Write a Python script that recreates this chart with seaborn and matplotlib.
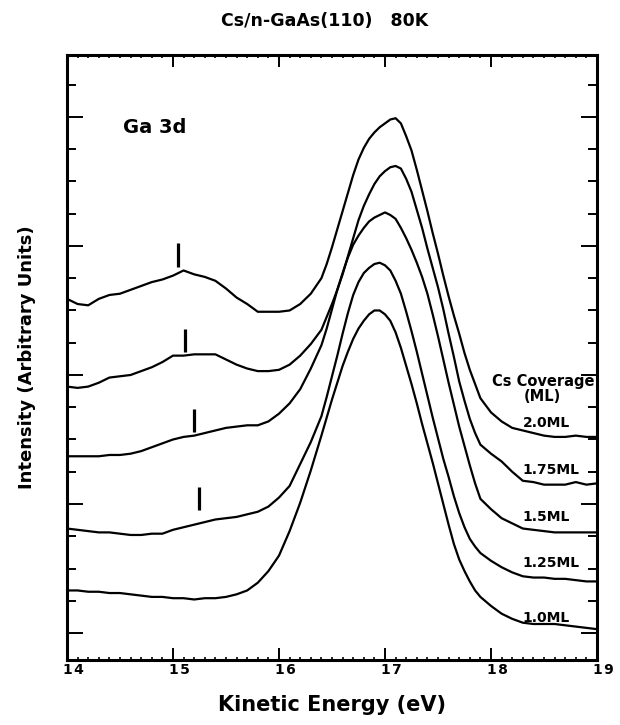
import numpy as np
import pandas as pd
import matplotlib
matplotlib.use("Agg")
import matplotlib.pyplot as plt
import matplotlib.transforms as mtransforms
from matplotlib.ticker import MultipleLocator
import seaborn as sns

# kinetic energy sample points (eV); denser across the main peak
energy = [14.0, 14.1, 14.2, 14.3, 14.4, 14.5, 14.6, 14.7, 14.8, 14.9,
          15.0, 15.1, 15.2, 15.3, 15.4, 15.5, 15.6, 15.7, 15.8, 15.9,
          16.0, 16.1, 16.2, 16.3, 16.4,
          16.45, 16.5, 16.55, 16.6, 16.65, 16.7, 16.75, 16.8, 16.85, 16.9,
          16.95, 17.0, 17.05, 17.1, 17.15, 17.2, 17.25, 17.3, 17.35, 17.4,
          17.45, 17.5, 17.55, 17.6, 17.65, 17.7, 17.75, 17.8, 17.85, 17.9,
          18.0, 18.1, 18.2, 18.3, 18.4, 18.5, 18.6, 18.7, 18.8, 18.9, 19.0]

# Ga 3d spectra (arbitrary units, offset) for each Cs coverage
cov_2_0 = [2.59, 2.55, 2.54, 2.59, 2.62, 2.63, 2.66, 2.69, 2.72, 2.74,
           2.77, 2.81, 2.78, 2.76, 2.73, 2.67, 2.60, 2.55, 2.49, 2.49,
           2.49, 2.50, 2.55, 2.63, 2.75,
           2.86, 2.99, 3.13, 3.27, 3.41, 3.55, 3.67, 3.76, 3.83, 3.88,
           3.92, 3.95, 3.98, 3.99, 3.95, 3.85, 3.74, 3.59, 3.43, 3.27,
           3.10, 2.94, 2.77, 2.61, 2.46, 2.32, 2.17, 2.04, 1.93, 1.82,
           1.71, 1.64, 1.59, 1.57, 1.55, 1.53, 1.52, 1.52, 1.53, 1.52, 1.52]
cov_1_75 = [1.91, 1.90, 1.91, 1.94, 1.98, 1.99, 2.00, 2.03, 2.06, 2.10,
            2.15, 2.15, 2.16, 2.16, 2.16, 2.12, 2.08, 2.05, 2.03, 2.03,
            2.04, 2.08, 2.15, 2.24, 2.35,
            2.45, 2.55, 2.66, 2.78, 2.92, 3.06, 3.20, 3.31, 3.40, 3.48,
            3.54, 3.58, 3.61, 3.62, 3.60, 3.52, 3.42, 3.28, 3.14, 2.98,
            2.83, 2.68, 2.51, 2.32, 2.14, 1.95, 1.80, 1.66, 1.55, 1.46,
            1.39, 1.33, 1.25, 1.18, 1.17, 1.15, 1.15, 1.15, 1.17, 1.15, 1.16]
cov_1_5 = [1.37, 1.37, 1.37, 1.37, 1.38, 1.38, 1.39, 1.41, 1.44, 1.47,
           1.50, 1.52, 1.53, 1.55, 1.57, 1.59, 1.60, 1.61, 1.61, 1.64,
           1.70, 1.78, 1.89, 2.05, 2.23,
           2.36, 2.51, 2.66, 2.79, 2.91, 3.01, 3.08, 3.14, 3.19, 3.22,
           3.24, 3.26, 3.24, 3.21, 3.14, 3.06, 2.97, 2.87, 2.76, 2.63,
           2.47, 2.30, 2.12, 1.94, 1.77, 1.60, 1.45, 1.30, 1.16, 1.04,
           0.96, 0.89, 0.85, 0.81, 0.80, 0.79, 0.78, 0.78, 0.78, 0.78, 0.78]
cov_1_25 = [0.81, 0.80, 0.79, 0.78, 0.78, 0.77, 0.76, 0.76, 0.77, 0.77,
            0.80, 0.82, 0.84, 0.86, 0.88, 0.89, 0.90, 0.92, 0.94, 0.98,
            1.05, 1.14, 1.31, 1.48, 1.68,
            1.83, 1.99, 2.15, 2.32, 2.48, 2.62, 2.72, 2.79, 2.83, 2.86,
            2.87, 2.85, 2.81, 2.73, 2.63, 2.49, 2.34, 2.18, 2.01, 1.84,
            1.67, 1.51, 1.35, 1.21, 1.06, 0.93, 0.82, 0.73, 0.67, 0.62,
            0.56, 0.51, 0.47, 0.44, 0.43, 0.43, 0.42, 0.42, 0.41, 0.40, 0.40]
cov_1_0 = [0.33, 0.33, 0.32, 0.32, 0.31, 0.31, 0.30, 0.29, 0.28, 0.28,
           0.27, 0.27, 0.26, 0.27, 0.27, 0.28, 0.30, 0.33, 0.39, 0.48,
           0.60, 0.79, 1.01, 1.26, 1.53,
           1.67, 1.81, 1.94, 2.07, 2.18, 2.28, 2.36, 2.42, 2.47, 2.50,
           2.50, 2.47, 2.42, 2.33, 2.21, 2.07, 1.93, 1.78, 1.62, 1.47,
           1.32, 1.16, 1.00, 0.84, 0.69, 0.57, 0.48, 0.40, 0.33, 0.28,
           0.21, 0.15, 0.11, 0.08, 0.07, 0.07, 0.07, 0.06, 0.05, 0.04, 0.03]

coverage_labels = ["2.0ML", "1.75ML", "1.5ML", "1.25ML", "1.0ML"]
label_y = [1.63, 1.26, 0.90, 0.54, 0.12]

# surface-shifted component markers
marker_x = [15.05, 15.11, 15.20, 15.25]
marker_lo = [2.84, 2.18, 1.56, 0.95]
marker_hi = [3.02, 2.36, 1.74, 1.13]

xticks = [14, 15, 16, 17, 18, 19]

spectra = [cov_2_0, cov_1_75, cov_1_5, cov_1_25, cov_1_0]
df = pd.concat([pd.DataFrame({"energy": energy, "intensity": s, "coverage": lab})
                for s, lab in zip(spectra, coverage_labels)], ignore_index=True)

sns.set_style("ticks")
plt.rcParams["font.family"] = ["DejaVu Sans"]
plt.rcParams["font.weight"] = "bold"
for key in ["text.color", "axes.labelcolor", "xtick.color", "ytick.color", "axes.edgecolor"]:
    plt.rcParams[key] = "black"

fig = plt.figure(figsize=(6.2, 7.25), dpi=100)
ax = fig.add_axes([67 / 620, 1 - 660 / 725, 530 / 620, 605 / 725])

sns.lineplot(data=df, x="energy", y="intensity", units="coverage", estimator=None,
             color="black", linewidth=1.6, legend=False, ax=ax)
ax.vlines(marker_x, marker_lo, marker_hi, color="black", linewidth=2.3)

ax.set_xlim(14, 19)
ax.set_ylim(-0.209, 4.48)
ax.set_xticks(xticks)
ax.set_xticklabels(["\u200a".join(str(t)) for t in xticks])
ax.xaxis.set_minor_locator(MultipleLocator(0.1))
ax.set_yticks([0, 1, 2, 3, 4])
ax.set_yticklabels([])
ax.yaxis.set_minor_locator(MultipleLocator(0.25))

ax.tick_params(axis="both", which="both", direction="in", top=True, right=True,
               color="black", width=1.4)
ax.tick_params(axis="x", which="major", length=8.5, pad=2, labelsize=10)
ax.tick_params(axis="x", which="minor", length=2.5, width=1.2)
ax.tick_params(axis="y", which="major", length=11.5)
ax.tick_params(axis="y", which="minor", length=6.5)
for lab in ax.get_xticklabels():
    lab.set_horizontalalignment("left")
    lab.set_fontweight("bold")
    lab.set_transform(lab.get_transform() +
                      mtransforms.ScaledTranslation(-3 / 72, 0, fig.dpi_scale_trans))

for sp in ax.spines.values():
    sp.set_linewidth(2.2)
    sp.set_color("black")

ax.set_xlabel("Kinetic Energy (eV)", fontsize=15, fontweight="bold")
ax.xaxis.set_label_coords(0.5, -0.058)
ax.set_ylabel("Intensity (Arbitrary Units)", fontsize=13, fontweight="bold")
ax.yaxis.set_label_coords(-0.058, 0.5)

fig.text(325 / 620, 1 - 21 / 725, "Cs/n-GaAs(110)   80K", ha="center", va="center",
         fontsize=12.5, fontweight="bold")

ax.text(14.53, 3.92, "Ga 3d", ha="left", va="center", fontsize=14, fontweight="bold")
ax.text(18.49, 1.95, "Cs Coverage", ha="center", va="center", fontsize=10.5, fontweight="bold")
ax.text(18.48, 1.83, "(ML)", ha="center", va="center", fontsize=10.5, fontweight="bold")
for lab, y in zip(coverage_labels, label_y):
    ax.text(18.30, y, lab, ha="left", va="center", fontsize=10, fontweight="bold")

fig.savefig("out.png", dpi=100)
